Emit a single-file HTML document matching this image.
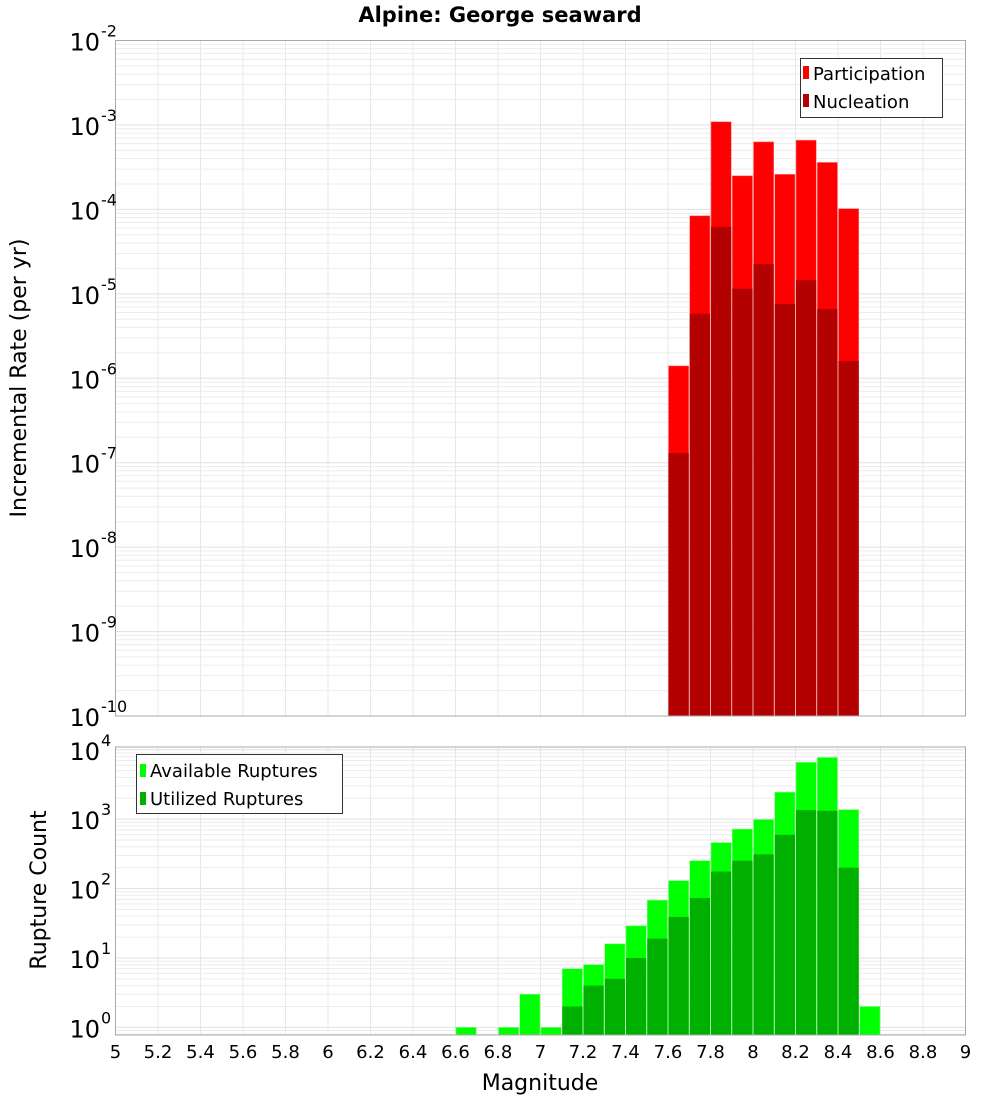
<!DOCTYPE html>
<html><head><meta charset="utf-8"><style>
body{margin:0;background:#fff;}
svg text{font-family:"DejaVu Sans","Liberation Sans",sans-serif;}
</style></head><body>
<svg id="chart" width="1000" height="1100" xmlns="http://www.w3.org/2000/svg">
<text x="500" y="22" text-anchor="middle" font-size="21" font-weight="bold">Alpine: George seaward</text>
<g id="top-grid"></g>
<g id="bot-grid"></g>
<g id="top-bars"></g>
<g id="bot-bars"></g>
<rect x="115.5" y="40.5" width="850" height="675.5" fill="none" stroke="#aaa" stroke-width="1"/>
<rect x="115.5" y="747" width="850" height="288" fill="none" stroke="#aaa" stroke-width="1"/>
<g id="top-ticks"></g>
<g id="bot-ticks"></g>
<g id="x-ticks"></g>
<text transform="translate(26,378) rotate(-90)" text-anchor="middle" font-size="22">Incremental Rate (per yr)</text>
<text transform="translate(46,890) rotate(-90)" text-anchor="middle" font-size="22">Rupture Count</text>
<text x="540" y="1090" text-anchor="middle" font-size="22">Magnitude</text>
<g>
<rect x="800.5" y="58.5" width="142" height="59" fill="#fff" stroke="#333"/>
<rect x="803" y="66" width="6" height="13" fill="#ff0000"/>
<text x="813" y="80" font-size="18">Participation</text>
<rect x="803" y="94" width="6" height="13" fill="#b30000"/>
<text x="813" y="108" font-size="18">Nucleation</text>
</g>
<g>
<rect x="136.5" y="754.5" width="206" height="59" fill="#fff" stroke="#333"/>
<rect x="140" y="764" width="6" height="13" fill="#00ff00"/>
<text x="150" y="777" font-size="18">Available Ruptures</text>
<rect x="140" y="792" width="6" height="13" fill="#00b000"/>
<text x="150" y="805" font-size="18">Utilized Ruptures</text>
</g>
</svg>
<script>
const topBins=[7.65,7.75,7.85,7.95,8.05,8.15,8.25,8.35,8.45];
const participation=[1.4e-6,8.4e-5,1.09e-3,2.5e-4,6.3e-4,2.6e-4,6.6e-4,3.6e-4,1.02e-4];
const nucleation=[1.3e-7,5.8e-6,6.2e-5,1.15e-5,2.25e-5,7.6e-6,1.45e-5,6.6e-6,1.6e-6];
const botBins=[6.65,6.75,6.85,6.95,7.05,7.15,7.25,7.35,7.45,7.55,7.65,7.75,7.85,7.95,8.05,8.15,8.25,8.35,8.45,8.55];
const available=[1,0,1,3,1,7,8,16,29,68,130,252,460,720,990,2450,6600,7750,1370,2];
const utilized=[0,0,0,0,0,2,4,5,10,19,39,73,176,252,311,595,1350,1320,200,0];
const xTicks=[5,5.2,5.4,5.6,5.8,6,6.2,6.4,6.6,6.8,7,7.2,7.4,7.6,7.8,8,8.2,8.4,8.6,8.8,9];
const topDecades=[-2,-3,-4,-5,-6,-7,-8,-9,-10];
const botDecades=[0,1,2,3,4];
const NS="http://www.w3.org/2000/svg";
const X0=115.5,X1=965.5,XMIN=5,XMAX=9;
function xs(v){return X0+(v-XMIN)/(XMAX-XMIN)*(X1-X0);}
const TT=40.5,TB=716,TMAX=-2,TMIN=-10;
function yTop(v){return TT+(TMAX-Math.log10(v))/(TMAX-TMIN)*(TB-TT);}
const BT=747,BB=1035,BMAX=4.04,BMIN=-0.11;
function yBot(v){return BT+(BMAX-Math.log10(v))/(BMAX-BMIN)*(BB-BT);}
function mk(tag,attrs,parent){const e=document.createElementNS(NS,tag);for(const k in attrs)e.setAttribute(k,attrs[k]);parent.appendChild(e);return e;}
const tg=document.getElementById('top-grid'),bg=document.getElementById('bot-grid');
xTicks.forEach(t=>{
 const l1=mk('line',{x1:xs(t),x2:xs(t),y1:TT,y2:TB,stroke:'#e8e8e8'},tg);
 
 
 const l2=mk('line',{x1:xs(t),x2:xs(t),y1:BT,y2:BB,stroke:'#e8e8e8'},bg);
 
 
});
for(let d=TMIN;d<TMAX;d++){for(let m=1;m<10;m++){const y=yTop(m*Math.pow(10,d));
 const l=mk('line',{x1:X0,x2:X1,y1:y,y2:y,stroke:m==1?'#e0e0e0':'#ececec'},tg);
 
 }}
for(let d=-1;d<5;d++){for(let m=1;m<10;m++){const v=m*Math.pow(10,d);const y=yBot(v);if(y<BT||y>BB)continue;
 const l=mk('line',{x1:X0,x2:X1,y1:y,y2:y,stroke:m==1?'#e0e0e0':'#ececec'},bg);
 
 }}
const bw=(xs(5.1)-xs(5));
const tb=document.getElementById('top-bars');
topBins.forEach((c,i)=>{
 const x=xs(c)-bw/2+0.5;
 const p=mk('rect',{x:x,y:yTop(participation[i]),width:bw-1,height:TB-yTop(participation[i]),fill:'#ff0000',stroke:'#ff8080','stroke-width':0.6},tb);
 
 
 const n=mk('rect',{x:x,y:yTop(nucleation[i]),width:bw-1,height:TB-yTop(nucleation[i]),fill:'#b30000'},tb);
 
 
});
const bb=document.getElementById('bot-bars');
botBins.forEach((c,i)=>{
 const x=xs(c)-bw/2+0.5;
 if(available[i]>0){const a=mk('rect',{x:x,y:yBot(available[i]),width:bw-1,height:BB-yBot(available[i]),fill:'#00ff00',stroke:'#80ff80','stroke-width':0.6},bb);
 
 }
 if(utilized[i]>0){const u=mk('rect',{x:x,y:yBot(utilized[i]),width:bw-1,height:BB-yBot(utilized[i]),fill:'#00b000'},bb);
 
 }
});
function label(g,y,exp,name){
 const t=mk('text',{x:100,y:y+10,'text-anchor':'end','font-size':24},g);
 t.textContent='10';
 
 
 const s=mk('text',{x:101,y:y-4,'font-size':16},g);
 s.textContent=String(exp);
 
 
}
const tt=document.getElementById('top-ticks');
topDecades.forEach(d=>label(tt,yTop(Math.pow(10,d)),d,'top-y-tick-label'));
const bt=document.getElementById('bot-ticks');
botDecades.forEach(d=>label(bt,yBot(Math.pow(10,d)),d,'bottom-y-tick-label'));
const xt=document.getElementById('x-ticks');
xTicks.forEach(t=>{
 const e=mk('text',{x:xs(t),y:1058,'text-anchor':'middle','font-size':18},xt);
 e.textContent=String(Math.round(t*10)/10);
 
 
});
</script>
</body></html>
